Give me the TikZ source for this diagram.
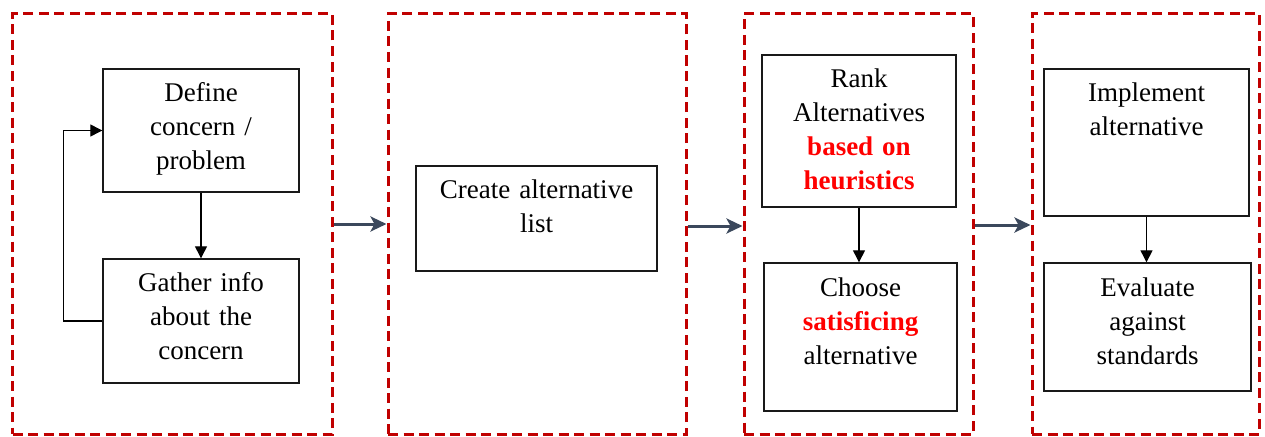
\documentclass[tikz,border=0pt]{standalone}
\usepackage{fontspec}
\setmainfont{Liberation Serif}
\usetikzlibrary{arrows.meta}
\definecolor{stagered}{RGB}{192,0,0}
\definecolor{flowblue}{RGB}{59,72,92}
\definecolor{keyred}{RGB}{255,0,0}
\newcommand{\hl}[1]{\textcolor{keyred}{\bfseries #1}}
\tikzset{
  stagebox/.style={draw=stagered, line width=3pt, dash pattern=on 10pt off 5.5pt, inner sep=0pt},
  stepbox/.style={draw=black!90, line width=1.4pt, inner sep=0pt, fill=white},
  steptext/.style={anchor=base, inner sep=0pt, align=center,
    font=\fontsize{27}{34}\selectfont, text width=#1},
  steptext/.default=180pt,
  flow/.style={draw=flowblue, line width=3pt, -{Stealth[length=16pt,width=15pt,inset=4pt]}},
  inner/.style={draw=black, line width=1.3pt, -{Triangle[length=12pt,width=12pt]}}
}
\begin{document}
\begin{tikzpicture}[x=1pt,y=-1pt]
\useasboundingbox (0,0) rectangle (1265,436);

% stage frames
\node[stagebox, minimum width=319.5pt, minimum height=420pt] (s1) at (172.25,224) {};
\node[stagebox, minimum width=298pt, minimum height=420pt] (s2) at (537,224) {};
\node[stagebox, minimum width=229pt, minimum height=420pt] (s3) at (858.5,224) {};
\node[stagebox, minimum width=227pt, minimum height=420pt] (s4) at (1145.5,224) {};

% step boxes
\node[stepbox, minimum width=196pt, minimum height=123pt] (define) at (201,130.5) {};
\node[stepbox, minimum width=196pt, minimum height=124pt] (gather) at (201,321) {};
\node[stepbox, minimum width=241pt, minimum height=105pt] (create) at (536.5,218.5) {};
\node[stepbox, minimum width=194pt, minimum height=152pt] (rank) at (859,131) {};
\node[stepbox, minimum width=193pt, minimum height=148pt] (choose) at (860.5,337) {};
\node[stepbox, minimum width=205pt, minimum height=147pt] (implement) at (1146.5,142.5) {};
\node[stepbox, minimum width=207pt, minimum height=128pt] (evaluate) at (1147.5,327) {};

% step labels
\node[steptext] (tdefine) at ([yshift=-33pt]define.north) {Define\\concern /\\problem};
\node[steptext] (tgather) at ([yshift=-33pt]gather.north) {Gather info\\about the\\concern};
\node[steptext=230pt] (tcreate) at ([yshift=-33pt]create.north) {Create alternative\\list};
\node[steptext] (trank) at ([yshift=-33pt]rank.north) {Rank\\Alternatives\\\hl{based on}\\\hl{heuristics}};
\node[steptext] (tchoose) at ([yshift=-34pt]choose.north) {Choose\\\hl{satisficing}\\alternative};
\node[steptext] (timplement) at ([yshift=-33pt]implement.north) {Implement\\alternative};
\node[steptext] (tevaluate) at ([yshift=-34pt]evaluate.north) {Evaluate\\against\\standards};

% connectors inside the stages
\draw[inner] (define.south) -- (gather.north);
\draw[inner] (gather.west) -- ++(-39,0) |- (define.west);
\draw[inner] (rank.south) -- (rank.south |- choose.north);
\draw[inner] (implement.south) -- (implement.south |- evaluate.north);

% connectors between the stages
\draw[flow] (s1.east) -- (s2.west);
\draw[flow] ([yshift=-2pt]s2.east) -- ([yshift=-2pt]s3.west);
\draw[flow] ([yshift=-1pt]s3.east) -- ([yshift=-1pt]s4.west);
\end{tikzpicture}
\end{document}
